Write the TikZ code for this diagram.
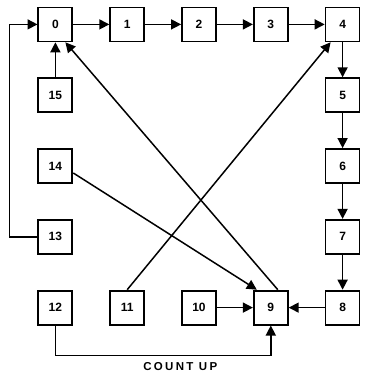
\documentclass[tikz,border=0pt]{standalone}
\usepackage{fontspec}
\setmainfont{Liberation Sans}
\usetikzlibrary{positioning, arrows.meta, matrix}

\begin{document}
\begin{tikzpicture}[x=1pt, y=1pt,
    counter/.style={rectangle, draw, line width=1.8pt, minimum size=34pt, inner sep=0pt, text centered, font=\fontsize{12}{14}\selectfont\bfseries},
    arrow/.style={-{Triangle[length=10pt, width=10pt]}, line width=1.5pt},
    countlabel/.style={inner sep=0pt, font=\fontsize{11.5}{13}\selectfont\bfseries\addfontfeature{LetterSpace=20}},
    layer/.style={rectangle, draw=none, fill=none}
    ]
    \useasboundingbox (0,0) rectangle (375,-372);

    % Estados del contador
    \matrix[layer, column sep=36pt, row sep=35pt] at (199,-166) {
        \node[counter] (C0) {0}; &
        \node[counter] (C1) {1}; &
        \node[counter] (C2) {2}; &
        \node[counter] (C3) {3}; &
        \node[counter] (C4) {4}; \\
        \node[counter] (C15) {15}; & & & &
        \node[counter] (C5) {5}; \\
        \node[counter] (C14) {14}; & & & &
        \node[counter] (C6) {6}; \\
        \node[counter] (C13) {13}; & & & &
        \node[counter] (C7) {7}; \\
        \node[counter] (C12) {12}; &
        \node[counter] (C11) {11}; &
        \node[counter] (C10) {10}; &
        \node[counter] (C9) {9}; &
        \node[counter] (C8) {8}; \\
    };

    % Secuencia principal
    \draw[arrow] (C0) -- (C1);
    \draw[arrow] (C1) -- (C2);
    \draw[arrow] (C2) -- (C3);
    \draw[arrow] (C3) -- (C4);
    \draw[arrow] (C4) -- (C5);
    \draw[arrow] (C5) -- (C6);
    \draw[arrow] (C6) -- (C7);
    \draw[arrow] (C7) -- (C8);
    \draw[arrow] (C8) -- (C9);
    \draw[arrow] (C10) -- (C9);
    \draw[arrow] (C15) -- (C0);

    % Saltos
    \draw[arrow] (C13.west) -- ++(-28,0) |- (C0.west);
    \draw[arrow] (C12.south) -- ++(0,-30) -| (C9.south)
        node[countlabel, pos=0.29, below=6pt] (CountUp) {COUNT UP};
    \draw[arrow] ([xshift=7pt]C9.north) -- ([xshift=10pt]C0.south);
    \draw[arrow] (C11.north) -- ([xshift=-12pt]C4.south);
    \draw[arrow] ([yshift=-7pt]C14.east) -- ([xshift=-14pt]C9.north);

\end{tikzpicture}
\end{document}
